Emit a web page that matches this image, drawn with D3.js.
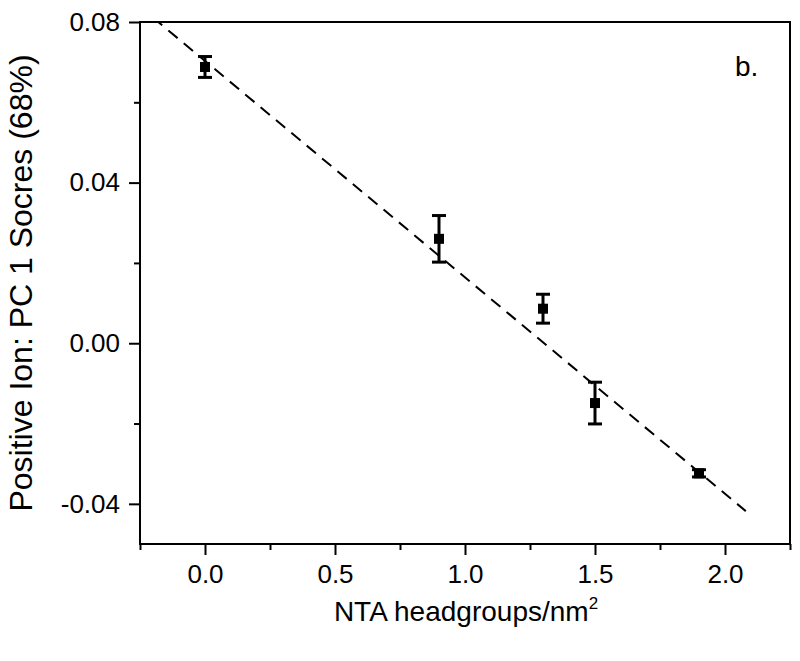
<!DOCTYPE html>
<html>
<head>
<meta charset="utf-8">
<script src="https://cdn.jsdelivr.net/npm/d3@7"></script>
<style>
  body { margin: 0; background: #fff; }
  text { font-family: "Liberation Sans", Arial, sans-serif; fill: #000; }
</style>
</head>
<body>
<div id="chart"></div>
<script>
// data
const density = [0.0, 0.9, 1.3, 1.5, 1.9];          // NTA headgroups/nm2
const score = [0.0688, 0.0260, 0.0086, -0.0149, -0.0324];
const scoreErr = [0.0026, 0.0058, 0.0036, 0.0052, 0.0009];

// linear fit (dashed)
const fitSlope = -0.0539;
const fitIntercept = 0.0703;
const fitRange = [-0.2, 2.08];

const xMajor = [0.0, 0.5, 1.0, 1.5, 2.0];
const xMinor = [-0.25, 0.25, 0.75, 1.25, 1.75, 2.25];
const yMajor = [-0.04, 0.00, 0.04, 0.08];
const yMinor = [-0.02, 0.02, 0.06];

const width = 800, height = 661;
const pLeft = 140, pRight = 790, pTop = 22, pBottom = 544;

const svg = d3.select("#chart").append("svg")
    .attr("width", width)
    .attr("height", height);

const x = d3.scaleLinear().domain([-0.25, 2.25]).range([pLeft, pRight]);
const y = d3.scaleLinear().domain([-0.05, 0.08]).range([pBottom, pTop]);

// plain hyphen for negatives, like the original
const fmt = p => d => d3.format(p)(d).replace("\u2212", "-");

svg.append("defs").append("clipPath").attr("id", "clip")
  .append("rect")
    .attr("x", pLeft).attr("y", pTop)
    .attr("width", pRight - pLeft).attr("height", pBottom - pTop);

// frame
svg.append("rect")
    .attr("x", pLeft).attr("y", pTop)
    .attr("width", pRight - pLeft).attr("height", pBottom - pTop)
    .attr("fill", "none")
    .attr("stroke", "#000")
    .attr("stroke-width", 2);

// x axis
const xAxis = svg.append("g").attr("transform", `translate(0,${pBottom})`);
xAxis.call(d3.axisBottom(x).tickValues(xMajor).tickSize(11).tickPadding(10)
    .tickFormat(fmt(".1f")));
xAxis.select(".domain").remove();
xAxis.selectAll(".tick line").attr("stroke-width", 2);
xAxis.selectAll(".tick text").attr("font-size", 26).attr("font-family", null);

const xMin = svg.append("g").attr("transform", `translate(0,${pBottom})`);
xMin.call(d3.axisBottom(x).tickValues(xMinor).tickSize(6).tickFormat(""));
xMin.select(".domain").remove();
xMin.selectAll(".tick line").attr("stroke-width", 2);

// y axis
const yAxis = svg.append("g").attr("transform", `translate(${pLeft},0)`);
yAxis.call(d3.axisLeft(y).tickValues(yMajor).tickSize(11).tickPadding(9)
    .tickFormat(fmt(".2f")));
yAxis.select(".domain").remove();
yAxis.selectAll(".tick line").attr("stroke-width", 2);
yAxis.selectAll(".tick text").attr("font-size", 26).attr("font-family", null);

const yMin = svg.append("g").attr("transform", `translate(${pLeft},0)`);
yMin.call(d3.axisLeft(y).tickValues(yMinor).tickSize(6).tickFormat(""));
yMin.select(".domain").remove();
yMin.selectAll(".tick line").attr("stroke-width", 2);

// fit line
svg.append("line")
    .attr("clip-path", "url(#clip)")
    .attr("x1", x(fitRange[0])).attr("y1", y(fitIntercept + fitSlope * fitRange[0]))
    .attr("x2", x(fitRange[1])).attr("y2", y(fitIntercept + fitSlope * fitRange[1]))
    .attr("stroke", "#000")
    .attr("stroke-width", 2)
    .attr("stroke-dasharray", "12,8");

// error bars
const pts = density.map((d, i) => ({ x: d, y: score[i], e: scoreErr[i] }));
const eb = svg.append("g").attr("stroke", "#000").attr("stroke-width", 3);
eb.selectAll(".v").data(pts).enter().append("line")
    .attr("x1", d => x(d.x)).attr("x2", d => x(d.x))
    .attr("y1", d => y(d.y + d.e)).attr("y2", d => y(d.y - d.e));
eb.selectAll(".ct").data(pts).enter().append("line")
    .attr("x1", d => x(d.x) - 7).attr("x2", d => x(d.x) + 7)
    .attr("y1", d => y(d.y + d.e)).attr("y2", d => y(d.y + d.e));
eb.selectAll(".cb").data(pts).enter().append("line")
    .attr("x1", d => x(d.x) - 7).attr("x2", d => x(d.x) + 7)
    .attr("y1", d => y(d.y - d.e)).attr("y2", d => y(d.y - d.e));

// markers
svg.selectAll(".pt").data(pts).enter().append("rect")
    .attr("x", d => x(d.x) - 5).attr("y", d => y(d.y) - 5)
    .attr("width", 10).attr("height", 10)
    .attr("fill", "#000");

// labels
svg.append("text")
    .attr("x", 735).attr("y", 76)
    .attr("font-size", 28)
    .text("b.");

const xt = svg.append("text")
    .attr("x", (pLeft + pRight) / 2 + 1).attr("y", 621)
    .attr("text-anchor", "middle")
    .attr("font-size", 28);
xt.append("tspan").text("NTA headgroups/nm");
xt.append("tspan").attr("font-size", 17).attr("dy", -12).text("2");

svg.append("text")
    .attr("transform", `translate(32,${(pTop + pBottom) / 2}) rotate(-90)`)
    .attr("text-anchor", "middle")
    .attr("font-size", 32)
    .text("Positive Ion: PC 1 Socres (68%)");
</script>
</body>
</html>
